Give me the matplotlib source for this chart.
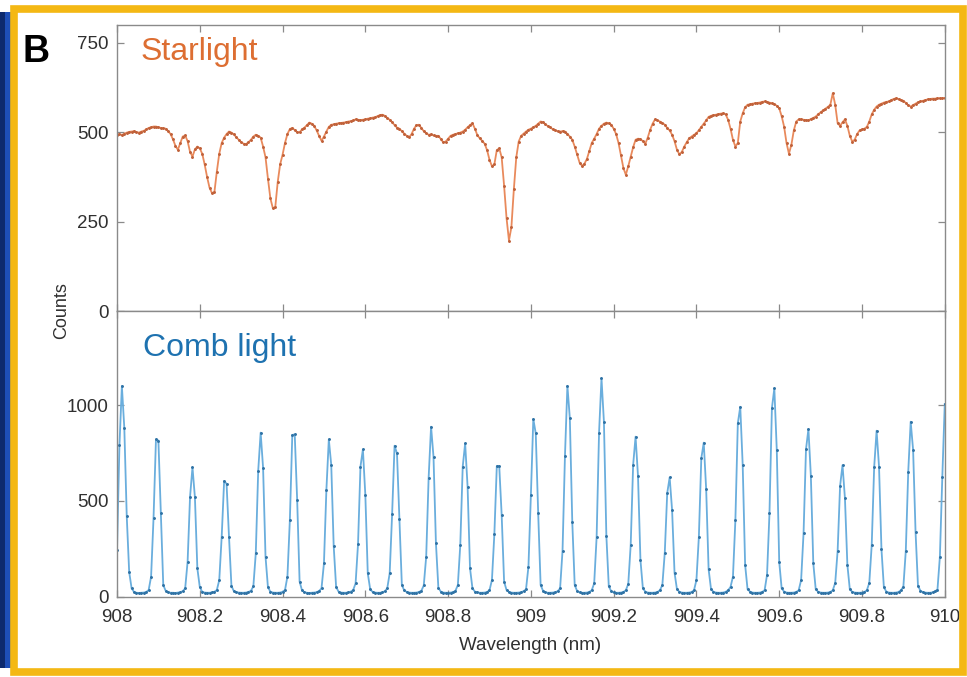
import numpy as np
import matplotlib
matplotlib.use("Agg")
import matplotlib.pyplot as plt
from matplotlib.patches import Rectangle
from matplotlib.ticker import FuncFormatter

plt.rcParams['font.family'] = ['Liberation Sans', 'DejaVu Sans']

# Spectra sampled on the same detector grid, 908 - 910 nm
starlight = [
    493, 495, 492, 496, 499, 501, 502, 503, 500, 499,
    502, 504, 508, 512, 514, 516, 516, 514, 512, 511,
    510, 503, 495, 480, 462, 451, 470, 488, 491, 475,
    445, 432, 452, 460, 455, 440, 410, 375, 345, 330,
    332, 390, 440, 470, 485, 495, 502, 499, 494, 486,
    479, 472, 468, 467, 472, 479, 488, 493, 490, 485,
    460, 430, 370, 315, 288, 290, 360, 410, 437, 470,
    495, 509, 512, 506, 500, 500, 508, 513, 520, 527,
    524, 518, 505, 490, 476, 488, 502, 515, 521, 522,
    524, 525, 526, 527, 528, 530, 531, 533, 536, 535,
    534, 535, 536, 538, 539, 541, 542, 545, 548, 549,
    546, 540, 535, 528, 520, 513, 510, 503, 496, 490,
    486, 495, 510, 520, 521, 512, 503, 497, 493, 494,
    491, 490, 490, 481, 472, 474, 482, 490, 493, 495,
    497, 499, 502, 507, 514, 520, 525, 510, 492, 483,
    476, 468, 450, 423, 405, 410, 450, 455, 430, 350,
    260, 197, 235, 340, 430, 474, 490, 496, 502, 507,
    510, 514, 518, 524, 530, 528, 522, 517, 514, 508,
    505, 503, 502, 503, 502, 495, 488, 479, 460, 438,
    415, 406, 412, 425, 448, 470, 482, 495, 510, 518,
    524, 527, 525, 521, 510, 495, 470, 435, 400, 381,
    405, 432, 458, 479, 482, 481, 475, 468, 485, 507,
    524, 536, 533, 530, 526, 521, 512, 505, 493, 475,
    451, 438, 445, 460, 472, 483, 488, 493, 497, 506,
    515, 524, 533, 543, 546, 548, 549, 551, 552, 553,
    550, 535, 510, 479, 460, 470, 530, 553, 570, 577,
    578, 580, 581, 582, 583, 585, 586, 585, 583, 581,
    579, 574, 567, 545, 516, 470, 440, 465, 505, 530,
    536, 536, 535, 534, 533, 537, 540, 544, 550, 556,
    561, 566, 571, 577, 609, 577, 525, 518, 528, 536,
    518, 490, 474, 479, 495, 505, 508, 510, 515, 530,
    550, 563, 572, 577, 580, 583, 585, 586, 590, 593,
    595, 593, 590, 588, 582, 575, 572, 576, 580, 584,
    586, 588, 590, 592, 593, 594, 594, 595, 595, 595,
    596,
]

comb = [
    245, 790, 1099, 880, 420, 130, 45,
    26, 22, 21, 22, 23, 26, 36,
    106, 410, 821, 815, 436, 62,
    32, 24, 22, 22, 21, 23, 25, 30,
    45, 184, 522, 675, 519, 149, 52,
    27, 23, 22, 22, 24, 27,
    36, 88, 314, 604, 590, 314, 58,
    30, 24, 23, 22, 22, 23, 26, 32,
    55, 227, 658, 856, 673, 210, 50,
    28, 23, 22, 22, 23, 27,
    36, 106, 401, 844, 847, 505, 80, 34,
    25, 22, 21, 22, 23, 25, 31,
    45, 175, 557, 821, 688, 266, 52,
    28, 23, 22, 22, 24, 28,
    36, 71, 276, 679, 769, 531, 123, 40,
    26, 23, 22, 22, 24, 30,
    45, 123, 431, 788, 748, 405, 62, 34,
    26, 23, 22, 22, 23, 26, 32,
    60, 210, 621, 887, 731, 280, 48,
    28, 23, 22, 22, 23, 25, 32,
    62, 271, 679, 800, 575, 149, 45,
    28, 24, 22, 22, 23, 26, 35,
    88, 328, 682, 682, 427, 80,
    36, 26, 23, 22, 22, 23, 25, 30, 40,
    158, 531, 927, 852, 436, 62,
    32, 24, 22, 22, 23, 25, 30, 45,
    241, 736, 1100, 931, 392, 62,
    31, 24, 22, 22, 23, 26, 35,
    71, 311, 856, 1139, 913, 319, 55,
    30, 24, 22, 22, 23, 26, 35,
    68, 271, 688, 835, 630, 193, 45,
    28, 23, 22, 22, 23, 26, 35,
    62, 231, 541, 623, 453, 127, 40,
    27, 23, 22, 22, 23, 26, 35,
    88, 314, 722, 804, 561, 144, 40,
    27, 23, 22, 22, 23, 27, 35,
    52, 106, 401, 905, 991, 688, 167, 40,
    28, 23, 22, 22, 23, 26, 35,
    115, 436, 984, 1087, 766, 184, 45,
    28, 23, 22, 22, 23, 26, 35,
    88, 332, 769, 875, 630, 175, 40,
    27, 23, 22, 22, 23, 26, 35,
    73, 241, 578, 687, 514, 167, 40,
    27, 23, 22, 22, 23, 26, 35,
    73, 271, 675, 866, 679, 248, 50,
    28, 23, 22, 22, 23, 26, 35,
    54, 241, 653, 913, 766, 340, 58, 33,
    25, 23, 22, 22, 24, 30,
    38, 210, 627, 1005,
]

wl_star = np.linspace(908, 910, len(starlight))
wl_comb = np.linspace(908, 910, len(comb))

x_ticks = [908, 908.2, 908.4, 908.6, 908.8, 909, 909.2, 909.4, 909.6, 909.8, 910]
star_ticks = [0, 250, 500, 750]
comb_ticks = [0, 500, 1000]

orange_line, orange_dot, orange_txt = '#E98A5C', '#C0613A', '#DD6E32'
blue_line, blue_dot, blue_txt = '#6AAEDD', '#2F72A4', '#1E72B0'
spine_gray = '#8a8a8a'

fig = plt.figure(figsize=(9.67, 6.77), dpi=100)

# panel border and the strip of the neighbouring panel on the left
fig.patches.append(Rectangle((0, 0.013), 0.005, 0.969, transform=fig.transFigure,
                             facecolor='#0d2a6e', edgecolor='none', zorder=0))
fig.patches.append(Rectangle((0.005, 0.013), 0.006, 0.969, transform=fig.transFigure,
                             facecolor='#1e4fb8', edgecolor='none', zorder=0))
fig.patches.append(Rectangle((0.0145, 0.0074), 0.981, 0.9793, transform=fig.transFigure,
                             fill=False, edgecolor='#F4B814', linewidth=5.5, zorder=1))

ax1 = fig.add_axes([0.121, 0.5406, 0.856, 0.4225])
ax2 = fig.add_axes([0.121, 0.1182, 0.856, 0.4225], sharex=ax1)

ax1.plot(wl_star, starlight, '-', color=orange_line, lw=1.3, marker='.',
         ms=2.2, mfc=orange_dot, mec=orange_dot)
ax2.plot(wl_comb, comb, '-', color=blue_line, lw=1.3, marker='.',
         ms=2.2, mfc=blue_dot, mec=blue_dot)

ax1.set_ylim(0, 800)
ax2.set_ylim(0, 1490)
ax1.set_xlim(908, 910)
ax1.set_yticks(star_ticks)
ax2.set_yticks(comb_ticks)
ax2.set_xticks(x_ticks)
ax2.xaxis.set_major_formatter(FuncFormatter(lambda v, p: '%g' % round(v, 1)))

for ax in (ax1, ax2):
    for s in ax.spines.values():
        s.set_color(spine_gray)
        s.set_linewidth(1.0)
    ax.tick_params(direction='in', length=5, width=0.9, color=spine_gray,
                   top=True, right=True, labelsize=13.5, labelcolor='#303030')
    ax.tick_params(axis='x', pad=9)
    ax.tick_params(axis='y', pad=6)
ax1.tick_params(labelbottom=False)

ax1.text(0.028, 0.905, 'Starlight', transform=ax1.transAxes, color=orange_txt,
         fontsize=23, va='center', ha='left')
ax2.text(0.031, 0.87, 'Comb light', transform=ax2.transAxes, color=blue_txt,
         fontsize=23, va='center', ha='left')

fig.text(0.064, 0.5406, 'Counts', rotation=90, ha='center', va='center',
         fontsize=13, color='#303030')
fig.text(0.548, 0.047, 'Wavelength (nm)', ha='center', va='center',
         fontsize=13.5, color='#303030')
fig.text(0.037, 0.923, 'B', ha='center', va='center', fontsize=27,
         fontweight='bold', color='black')

fig.savefig('out.png', dpi=100)
